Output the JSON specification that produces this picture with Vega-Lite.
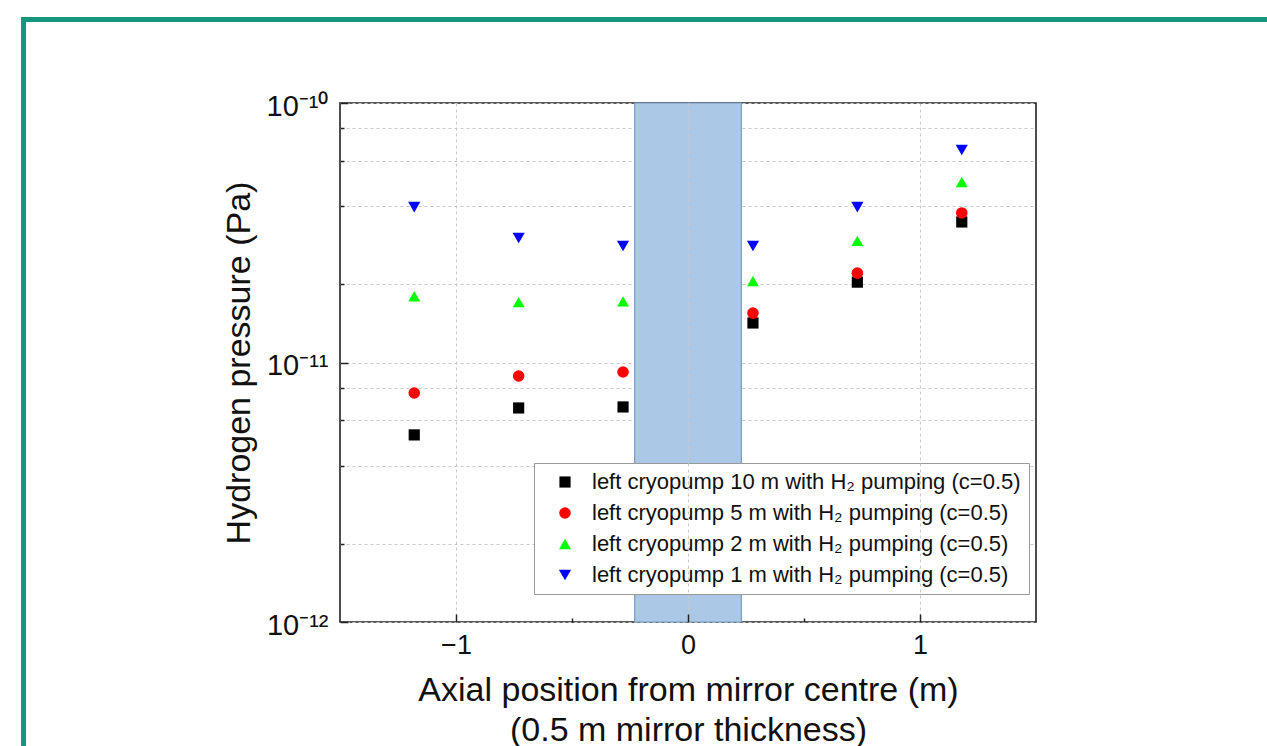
{
  "$schema": "https://vega.github.io/schema/vega-lite/v6.json",
  "autosize": {"type": "none"},
  "padding": {"left": 340, "top": 103, "right": 231, "bottom": 124},
  "width": 696,
  "height": 519,
  "background": "white",
  "config": {
    "font": "Liberation Sans",
    "view": {"stroke": "#222222", "strokeWidth": 1.6},
    "axis": {"labelFont": "Liberation Sans", "titleFont": "Liberation Sans", "labelColor": "#111111", "titleColor": "#111111", "titleFontWeight": "normal", "tickColor": "#222222", "tickWidth": 1.5}
  },
  "datasets": {
    "points": [
      {"x": -1.18, "p": 5.26e-12, "series": "left cryopump 10 m with H₂ pumping (c=0.5)"},
      {"x": -0.73, "p": 6.68e-12, "series": "left cryopump 10 m with H₂ pumping (c=0.5)"},
      {"x": -0.28, "p": 6.74e-12, "series": "left cryopump 10 m with H₂ pumping (c=0.5)"},
      {"x": 0.28, "p": 1.42e-11, "series": "left cryopump 10 m with H₂ pumping (c=0.5)"},
      {"x": 0.73, "p": 2.04e-11, "series": "left cryopump 10 m with H₂ pumping (c=0.5)"},
      {"x": 1.18, "p": 3.48e-11, "series": "left cryopump 10 m with H₂ pumping (c=0.5)"},
      {"x": -1.18, "p": 7.63e-12, "series": "left cryopump 5 m with H₂ pumping (c=0.5)"},
      {"x": -0.73, "p": 8.87e-12, "series": "left cryopump 5 m with H₂ pumping (c=0.5)"},
      {"x": -0.28, "p": 9.19e-12, "series": "left cryopump 5 m with H₂ pumping (c=0.5)"},
      {"x": 0.28, "p": 1.55e-11, "series": "left cryopump 5 m with H₂ pumping (c=0.5)"},
      {"x": 0.73, "p": 2.21e-11, "series": "left cryopump 5 m with H₂ pumping (c=0.5)"},
      {"x": 1.18, "p": 3.77e-11, "series": "left cryopump 5 m with H₂ pumping (c=0.5)"},
      {"x": -1.18, "p": 1.80e-11, "series": "left cryopump 2 m with H₂ pumping (c=0.5)"},
      {"x": -0.73, "p": 1.71e-11, "series": "left cryopump 2 m with H₂ pumping (c=0.5)"},
      {"x": -0.28, "p": 1.72e-11, "series": "left cryopump 2 m with H₂ pumping (c=0.5)"},
      {"x": 0.28, "p": 2.06e-11, "series": "left cryopump 2 m with H₂ pumping (c=0.5)"},
      {"x": 0.73, "p": 2.94e-11, "series": "left cryopump 2 m with H₂ pumping (c=0.5)"},
      {"x": 1.18, "p": 4.96e-11, "series": "left cryopump 2 m with H₂ pumping (c=0.5)"},
      {"x": -1.18, "p": 3.97e-11, "series": "left cryopump 1 m with H₂ pumping (c=0.5)"},
      {"x": -0.73, "p": 3.02e-11, "series": "left cryopump 1 m with H₂ pumping (c=0.5)"},
      {"x": -0.28, "p": 2.81e-11, "series": "left cryopump 1 m with H₂ pumping (c=0.5)"},
      {"x": 0.28, "p": 2.81e-11, "series": "left cryopump 1 m with H₂ pumping (c=0.5)"},
      {"x": 0.73, "p": 3.97e-11, "series": "left cryopump 1 m with H₂ pumping (c=0.5)"},
      {"x": 1.18, "p": 6.59e-11, "series": "left cryopump 1 m with H₂ pumping (c=0.5)"}
    ],
    "band": [{"start": -0.23, "end": 0.23}],
    "frame": [{"x1": -2.864, "x2": 4, "y1": 2.099e-10, "y2": 1e-14}]
  },
  "resolve": {"axis": {"x": "independent", "y": "independent"}},
  "layer": [
    {
      "data": {"name": "band"},
      "mark": {"type": "rect", "fill": "#abc9e7", "stroke": "#7a9cc0", "strokeWidth": 1.2},
      "encoding": {
        "x": {"field": "start", "type": "quantitative", "scale": {"domain": [-1.5, 1.5], "nice": false, "zero": false}, "axis": null},
        "x2": {"field": "end"}
      }
    },
    {
      "data": {"name": "points"},
      "mark": {"type": "point", "filled": true, "opacity": 1},
      "encoding": {
        "x": {
          "field": "x", "type": "quantitative",
          "scale": {"domain": [-1.5, 1.5], "nice": false, "zero": false},
          "axis": {
            "orient": "bottom", "values": [-1, 0, 1], "format": "d", "grid": true, "gridDash": [3, 3], "gridColor": "#c8c8c8", "gridWidth": 1,
            "tickSize": -8, "domain": false, "labelFontSize": 27, "labelPadding": 18, "zindex": 1,
            "title": ["Axial position from mirror centre (m)", "(0.5 m mirror thickness)"],
            "titleFontSize": 34, "titlePadding": 15, "titleLineHeight": 40
          }
        },
        "y": {
          "field": "p", "type": "quantitative",
          "scale": {"type": "log", "domain": [1e-12, 1e-10], "nice": false},
          "axis": {
            "orient": "left", "values": [1e-12, 1e-11, 1e-10], "grid": true, "gridDash": [3, 3], "gridColor": "#c8c8c8", "gridWidth": 1,
            "labelExpr": "datum.value < 5e-12 ? '10⁻¹²' : datum.value < 5e-11 ? '10⁻¹¹' : '10⁻¹⁰'",
            "tickSize": -8, "domain": false, "labelFontSize": 29, "labelPadding": 20, "labelOffset": 3, "zindex": 0,
            "title": "Hydrogen pressure (Pa)", "titleFontSize": 34, "titlePadding": 10
          }
        },
        "shape": {
          "field": "series", "type": "nominal",
          "scale": {"domain": ["left cryopump 10 m with H₂ pumping (c=0.5)", "left cryopump 5 m with H₂ pumping (c=0.5)", "left cryopump 2 m with H₂ pumping (c=0.5)", "left cryopump 1 m with H₂ pumping (c=0.5)"], "range": ["square", "circle", "triangle-up", "triangle-down"]},
          "legend": {
            "title": null, "orient": "none", "legendX": 194, "legendY": 360, "labelFontSize": 22, "labelFont": "Liberation Sans", "labelColor": "#111111", "labelLimit": 700,
            "rowPadding": 9, "padding": 8, "strokeColor": "#999999", "fillColor": "white", "symbolOffset": 12, "labelOffset": 16
          }
        },
        "color": {
          "field": "series", "type": "nominal",
          "scale": {"domain": ["left cryopump 10 m with H₂ pumping (c=0.5)", "left cryopump 5 m with H₂ pumping (c=0.5)", "left cryopump 2 m with H₂ pumping (c=0.5)", "left cryopump 1 m with H₂ pumping (c=0.5)"], "range": ["#000000", "#ff0000", "#00ff00", "#0000ff"]}
        },
        "size": {
          "field": "series", "type": "nominal",
          "scale": {"domain": ["left cryopump 10 m with H₂ pumping (c=0.5)", "left cryopump 5 m with H₂ pumping (c=0.5)", "left cryopump 2 m with H₂ pumping (c=0.5)", "left cryopump 1 m with H₂ pumping (c=0.5)"], "range": [125, 150, 200, 200]}
        }
      }
    },
    {
      "data": {"name": "points"},
      "mark": {"type": "point", "opacity": 0},
      "encoding": {
        "x": {
          "field": "x", "type": "quantitative",
          "axis": {"orient": "bottom", "values": [-0.5, 0.5], "grid": false, "labels": false, "tickSize": -4, "domain": false, "title": null}
        },
        "y": {
          "field": "p", "type": "quantitative",
          "axis": {"orient": "left", "values": [2e-12, 4e-12, 6e-12, 8e-12, 2e-11, 4e-11, 6e-11, 8e-11], "grid": true, "gridDash": [3, 3], "gridColor": "#c8c8c8", "gridWidth": 1, "labels": false, "tickSize": -4, "domain": false, "title": null, "zindex": 0}
        }
      }
    },
    {
      "data": {"name": "frame"},
      "mark": {"type": "rect", "fill": null, "stroke": "#13987f", "strokeWidth": 5, "clip": false},
      "encoding": {
        "x": {"field": "x1", "type": "quantitative", "axis": null},
        "x2": {"field": "x2"},
        "y": {"field": "y1", "type": "quantitative", "axis": null},
        "y2": {"field": "y2"}
      }
    }
  ]
}
